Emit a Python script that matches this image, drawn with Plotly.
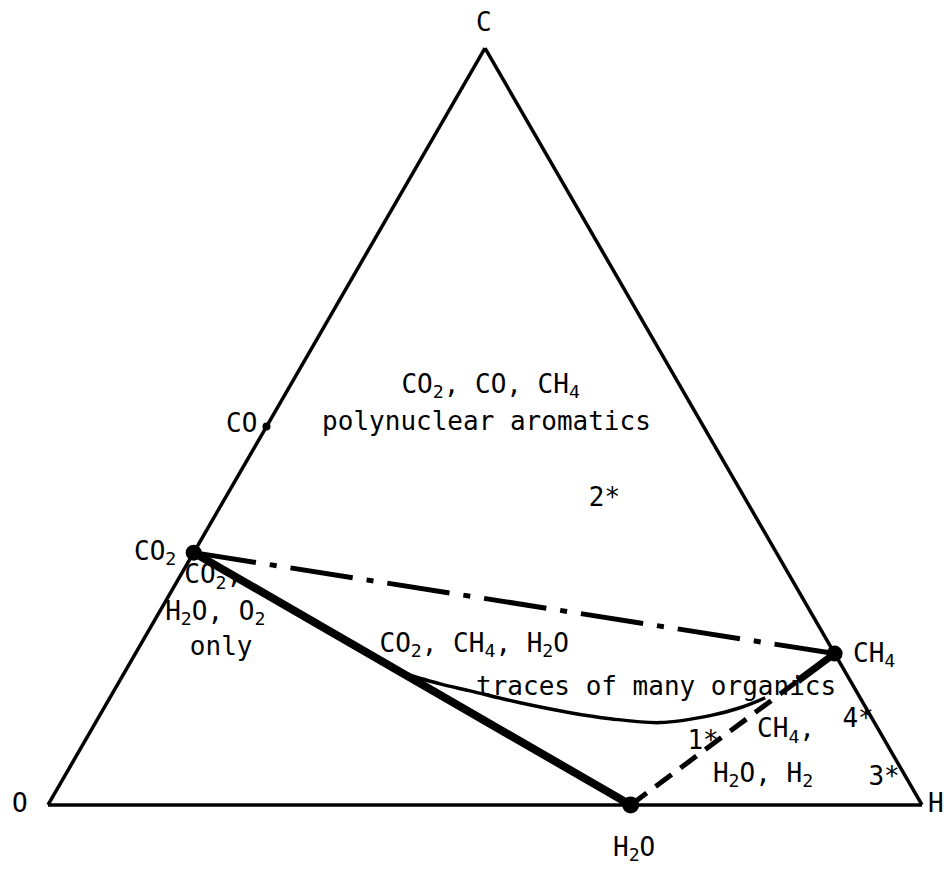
import plotly.graph_objects as go

# Ternary compositions (a = C, b = O, c = H), sum = 1
species = ["CO2", "CO", "CH4", "H2O"]
a_C = [1/3, 1/2, 1/5, 0.0]
b_O = [2/3, 1/2, 0.0, 1/3]
c_H = [0.0, 0.0, 4/5, 2/3]
marker_sizes = [16, 8, 16, 17]

# curved boundary
curve_a = [0.1743, 0.1599, 0.1507, 0.1350, 0.1219, 0.1140, 0.1088, 0.1180, 0.1284, 0.1415]
curve_b = [0.5077, 0.4713, 0.4416, 0.3923, 0.3416, 0.2998, 0.2452, 0.1834, 0.1439, 0.1087]
curve_c = [0.3180, 0.3688, 0.4077, 0.4727, 0.5365, 0.5862, 0.6460, 0.6986, 0.7277, 0.7498]

# region labels inside the triangle
label_text = [
    "CO<sub>2</sub>, CO, CH<sub>4</sub>",
    "polynuclear aromatics",
    "2*",
    "CO<sub>2</sub>,",
    "H<sub>2</sub>O, O<sub>2</sub>",
    "only",
    "CO<sub>2</sub>, CH<sub>4</sub>, H<sub>2</sub>O",
    "traces of many organics",
    "1*",
    "CH<sub>4</sub>,",
    "4*",
    "H<sub>2</sub>O, H<sub>2</sub>",
    "3*",
]
label_a = [0.5531, 0.5046, 0.4037, 0.3014, 0.2530, 0.2071, 0.2110, 0.1533, 0.0826, 0.0983, 0.1114, 0.0393, 0.0354]
label_c = [0.2299, 0.2494, 0.4348, 0.0384, 0.0649, 0.0946, 0.3822, 0.6191, 0.7082, 0.7953, 0.8712, 0.7985, 0.9389]
label_b = [1 - a - c for a, c in zip(label_a, label_c)]

FONT = "DejaVu Sans Mono"
FS = 26
OFF = 8  # page body margin offset

fig = go.Figure()

def idx(name):
    return species.index(name)

def seg(n1, n2, **line):
    i, j = idx(n1), idx(n2)
    fig.add_trace(go.Scatterternary(
        a=[a_C[i], a_C[j]], b=[b_O[i], b_O[j]], c=[c_H[i], c_H[j]],
        mode="lines", line=dict(color="black", **line), hoverinfo="skip",
        showlegend=False))

# thick solid CO2 - H2O
seg("CO2", "H2O", width=8)
# dash-dot CO2 - CH4
seg("CO2", "CH4", width=5, dash="63px,14px,7px,14px")
# dashed H2O - CH4
seg("H2O", "CH4", width=5, dash="20px,11px")

# arrow-like thick end of the dashed line near CH4
i, j = idx("H2O"), idx("CH4")
t0 = 0.82
fig.add_trace(go.Scatterternary(
    a=[a_C[i] + t0 * (a_C[j] - a_C[i]), a_C[j]],
    b=[b_O[i] + t0 * (b_O[j] - b_O[i]), b_O[j]],
    c=[c_H[i] + t0 * (c_H[j] - c_H[i]), c_H[j]],
    mode="lines", line=dict(color="black", width=7), hoverinfo="skip",
    showlegend=False))

# curve
fig.add_trace(go.Scatterternary(
    a=curve_a, b=curve_b, c=curve_c, mode="lines",
    line=dict(color="black", width=3.5, shape="spline"),
    hoverinfo="skip", showlegend=False))

# species markers
fig.add_trace(go.Scatterternary(
    a=a_C, b=b_O, c=c_H, mode="markers",
    marker=dict(color="black", size=marker_sizes, opacity=1, line=dict(width=0)),
    cliponaxis=False, hoverinfo="skip", showlegend=False))

# region labels
fig.add_trace(go.Scatterternary(
    a=label_a, b=label_b, c=label_c, mode="text", text=label_text,
    textposition="middle center",
    textfont=dict(family=FONT, size=FS, color="black"),
    cliponaxis=False, hoverinfo="skip", showlegend=False))

W, H = 952, 872
outside = [
    ("C", 484, 22),
    ("O", 20, 803),
    ("H", 936, 803),
    ("CO", 241, 423),
    ("CO<sub>2</sub>", 155, 552),
    ("CH<sub>4</sub>", 874, 654),
    ("H<sub>2</sub>O", 634, 848),
]
for txt, px, py in outside:
    fig.add_annotation(text=txt, x=(px - OFF) / W, y=1 - (py - OFF) / H,
                       xref="paper", yref="paper", borderpad=0,
                       showarrow=False, xanchor="center", yanchor="middle",
                       font=dict(family=FONT, size=FS, color="black"))

axis_style = dict(title=dict(text=""), showticklabels=False, ticks="", showgrid=False,
                  showline=True, linecolor="black", linewidth=3.5, min=0)

fig.update_layout(
    width=W, height=H,
    margin=dict(l=0, r=0, t=0, b=0),
    paper_bgcolor="white",
    ternary=dict(
        sum=1,
        domain=dict(x=[(48 - OFF) / W, (922 - OFF) / W],
                    y=[(872 - 805 + OFF) / H, (872 - 805 + OFF + 757) / H]),
        bgcolor="white",
        aaxis=axis_style, baxis=axis_style, caxis=axis_style,
    ),
)

fig.write_html("out.html")
